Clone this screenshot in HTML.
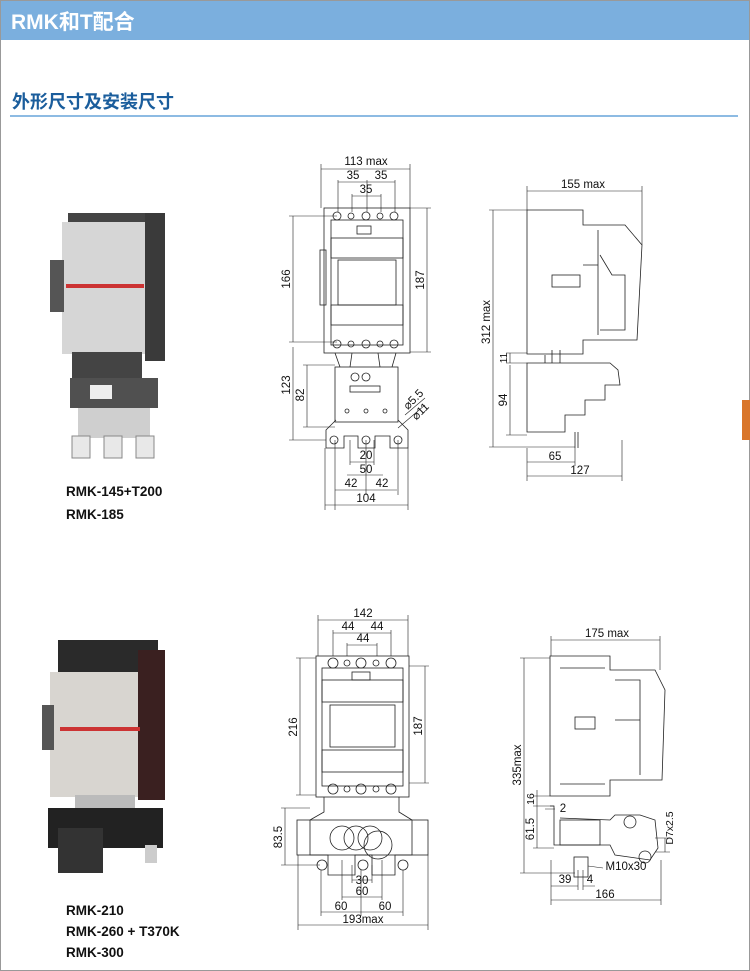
<!DOCTYPE html>
<html><head><meta charset="utf-8"><style>
html,body{margin:0;padding:0;background:#fff}
svg{display:block}
</style></head><body>
<svg width="750" height="971" viewBox="0 0 750 971" xmlns="http://www.w3.org/2000/svg" font-family="Liberation Sans, Noto Sans CJK SC, sans-serif">
<rect x="0" y="0" width="750" height="971" fill="#fff"/>
<rect x="0" y="0" width="750" height="40" fill="#7bafde"/>
<rect x="0.5" y="0.5" width="749" height="970" fill="none" stroke="#999" stroke-width="1"/>
<text x="11" y="29" font-size="21" font-weight="bold" fill="#fff" font-family="Liberation Sans, Noto Sans CJK SC, sans-serif">RMK和T配合</text>
<text x="12" y="108" font-size="18" font-weight="bold" fill="#1a5d9c" font-family="Liberation Sans, Noto Sans CJK SC, sans-serif">外形尺寸及安装尺寸</text>
<rect x="10" y="115" width="728" height="2" fill="#8dbbe3"/>
<rect x="742" y="400" width="8" height="40" fill="#d9762a"/>

<!-- Photo 1 -->
<g>
<rect x="68" y="213" width="80" height="25" fill="#444"/>
<rect x="62" y="222" width="88" height="132" fill="#d6d6d6"/>
<rect x="145" y="213" width="20" height="148" fill="#3a3a3a"/>
<rect x="50" y="260" width="14" height="52" fill="#555"/>
<rect x="66" y="284" width="78" height="4" fill="#c33"/>
<rect x="72" y="352" width="70" height="28" fill="#444"/>
<rect x="70" y="378" width="88" height="30" fill="#505050"/>
<rect x="90" y="385" width="22" height="14" fill="#eee"/>
<rect x="78" y="408" width="72" height="30" fill="#cfcfcf"/>
<rect x="72" y="436" width="18" height="22" fill="#e8e8e8" stroke="#888"/>
<rect x="104" y="436" width="18" height="22" fill="#e8e8e8" stroke="#888"/>
<rect x="136" y="436" width="18" height="22" fill="#e8e8e8" stroke="#888"/>
<text x="66" y="496" font-size="13.5" font-weight="bold" fill="#111">RMK-145+T200</text>
<text x="66" y="519" font-size="13.5" font-weight="bold" fill="#111">RMK-185</text>
</g>
<!-- Photo 2 -->
<g>
<rect x="58" y="640" width="100" height="32" fill="#2a2a2a"/>
<rect x="50" y="672" width="95" height="125" fill="#d8d5d0"/>
<rect x="138" y="650" width="27" height="150" fill="#3a2020"/>
<rect x="42" y="705" width="12" height="45" fill="#555"/>
<rect x="60" y="727" width="80" height="4" fill="#c33"/>
<rect x="75" y="795" width="60" height="15" fill="#bbb"/>
<rect x="48" y="808" width="115" height="40" fill="#222"/>
<rect x="58" y="828" width="45" height="45" fill="#333"/>
<rect x="145" y="845" width="12" height="18" fill="#ccc"/>
<text x="66" y="915" font-size="13.5" font-weight="bold" fill="#111">RMK-210</text>
<text x="66" y="936" font-size="13.5" font-weight="bold" fill="#111">RMK-260 + T370K</text>
<text x="66" y="957" font-size="13.5" font-weight="bold" fill="#111">RMK-300</text>
</g>

<g stroke="#222" stroke-width="0.8" fill="none">
<!-- Top front view -->
<rect x="324" y="208" width="86" height="145"/>
<rect x="331" y="220" width="72" height="125"/>
<rect x="331" y="238" width="72" height="20"/>
<rect x="338" y="260" width="58" height="45"/>
<rect x="331" y="305" width="72" height="20"/>
<circle cx="337" cy="216" r="4"/><circle cx="351" cy="216" r="3"/><circle cx="366" cy="216" r="4"/><circle cx="380" cy="216" r="3"/><circle cx="394" cy="216" r="4"/>
<circle cx="337" cy="344" r="4"/><circle cx="351" cy="344" r="3"/><circle cx="366" cy="344" r="4"/><circle cx="380" cy="344" r="3"/><circle cx="394" cy="344" r="4"/>
<rect x="357" y="226" width="14" height="8"/>
<rect x="320" y="250" width="6" height="55"/>
<path d="M335 353 L340 367 M352 353 L350 367 M378 353 L380 367 M396 353 L392 367"/>
<rect x="335" y="367" width="63" height="55"/>
<circle cx="355" cy="377" r="4"/><circle cx="366" cy="377" r="4"/>
<rect x="350" y="386" width="30" height="6"/>
<circle cx="347" cy="411" r="2"/><circle cx="366" cy="411" r="2"/><circle cx="385" cy="411" r="2"/>
<path d="M336 420 L326 430 L326 448 L344 448 L344 436 L358 436 L358 448 L375 448 L375 436 L390 436 L390 448 L408 448 L408 430 L398 420"/>
<circle cx="334" cy="440" r="4"/><circle cx="366" cy="440" r="4"/><circle cx="398" cy="440" r="4"/>
<!-- Top side view -->
<path d="M527 210 L583 210 L583 225 L625 225 L642 245 L637 340 L583 340 L583 354 L527 354 Z"/>
<path d="M598 230 L598 335 M583 265 L598 265 M600 255 L612 275 L625 275 L625 330 L600 330"/>
<rect x="552" y="275" width="28" height="12"/>
<path d="M527 363 L610 363 L618 370 L620 385 L605 385 L605 400 L585 400 L585 415 L565 415 L565 432 L527 432 Z"/>
<path d="M575 432 L575 448 M578 432 L578 448"/>
<path d="M545 355 L545 363 M552 350 L552 363 M560 350 L560 363"/>
<!-- Bottom front view -->
<rect x="316" y="656" width="93" height="141"/>
<rect x="322" y="668" width="81" height="118"/>
<rect x="322" y="680" width="81" height="22"/>
<rect x="330" y="705" width="65" height="42"/>
<rect x="322" y="750" width="81" height="22"/>
<circle cx="333" cy="663" r="5"/><circle cx="347" cy="663" r="3"/><circle cx="361" cy="663" r="5"/><circle cx="376" cy="663" r="3"/><circle cx="391" cy="663" r="5"/>
<circle cx="333" cy="789" r="5"/><circle cx="347" cy="789" r="3"/><circle cx="361" cy="789" r="5"/><circle cx="376" cy="789" r="3"/><circle cx="391" cy="789" r="5"/>
<rect x="352" y="672" width="18" height="8"/>
<path d="M324 797 L324 812 L310 820 L310 855 L328 855 L328 875 L355 875 L355 855 L372 855 L372 875 L395 875 L395 855 L412 855 L412 820 L399 812 L399 797"/>
<rect x="297" y="820" width="131" height="35"/>
<circle cx="342" cy="838" r="12"/><circle cx="356" cy="838" r="12"/><circle cx="370" cy="838" r="12"/><circle cx="378" cy="845" r="14"/>
<circle cx="322" cy="865" r="5"/><circle cx="363" cy="865" r="5"/><circle cx="403" cy="865" r="5"/>
<!-- Bottom side view -->
<path d="M550 656 L610 656 L610 670 L655 670 L665 690 L662 780 L610 780 L610 796 L550 796 Z"/>
<path d="M560 668 L605 668 M560 784 L605 784 M615 680 L640 680 L640 775 M615 720 L640 720"/>
<rect x="575" y="717" width="20" height="12"/>
<path d="M550 806 L554 806 L554 845 L610 845 L615 855 L650 860 L658 848 L655 820 L640 815 L615 815 L610 820 L560 818"/>
<rect x="560" y="820" width="40" height="25"/>
<circle cx="630" cy="822" r="6"/><circle cx="645" cy="857" r="6"/>
<rect x="574" y="857" width="14" height="20"/>
</g>

<!-- dimension lines -->
<g stroke="#222" stroke-width="0.6" fill="none">
<path d="M321 169 L410 169 M338 182 L395 182 M352 196 L381 196"/>
<path d="M321 164 L321 208 M410 164 L410 208 M338 180 L338 212 M367 180 L367 212 M395 180 L395 212 M352 194 L352 212 M381 194 L381 212"/>
<path d="M293 216 L293 342 M289 216 L337 216 M289 342 L337 342 M427 208 L427 352 M410 208 L431 208 M410 352 L431 352"/>
<path d="M293 347 L293 440 M307 365 L307 427 M289 440 L326 440 M303 365 L335 365 M303 427 L335 427"/>
<path d="M350 462 L374 462 M347 475 L383 475 M335 490 L397 490 M325 505 L408 505"/>
<path d="M335 440 L335 510 M366 440 L366 495 M398 440 L398 495 M325 448 L325 510 M408 448 L408 510 M350 440 L350 465 M374 440 L374 465"/>
<path d="M398 428 L425 405 M405 415 L425 398"/>
<path d="M527 191 L642 191 M527 186 L527 210 M642 186 L642 245"/>
<path d="M493 210 L493 447 M489 210 L527 210 M489 447 L575 447"/>
<path d="M510 353 L510 363 M506 353 L527 353 M506 363 L527 363 M510 365 L510 435 M506 435 L527 435"/>
<path d="M527 462 L575 462 M527 476 L622 476 M527 448 L527 481 M575 448 L575 466 M622 440 L622 481"/>
<path d="M318 620 L408 620 M333 633 L391 633 M347 645 L377 645 M318 615 L318 656 M408 615 L408 656 M333 630 L333 656 M391 630 L391 656 M347 643 L347 656 M377 643 L377 656"/>
<path d="M300 658 L300 795 M296 658 L316 658 M296 795 L316 795 M425 666 L425 783 M409 666 L429 666 M409 783 L429 783"/>
<path d="M285 808 L285 865 M281 808 L310 808 M281 865 L320 865"/>
<path d="M352 880 L372 880 M342 897 L382 897 M321 912 L403 912 M298 925 L428 925"/>
<path d="M321 870 L321 916 M361 870 L361 916 M403 870 L403 916 M298 855 L298 930 M428 855 L428 930 M342 860 L342 900 M382 860 L382 900 M352 865 L352 883 M372 865 L372 883"/>
<path d="M551 640 L660 640 M551 636 L551 656 M660 636 L660 670"/>
<path d="M524 658 L524 873 M520 658 L550 658 M520 873 L575 873"/>
<path d="M537 790 L537 806 M537 806 L537 848 M533 806 L554 806 M533 848 L554 848 M533 796 L550 796"/>
<path d="M545 809 L555 809 M665 838 L665 852 M655 838 L670 838 M655 852 L670 852"/>
<path d="M551 886 L578 886 M583 886 L595 886 M551 900 L661 900 M551 860 L551 905 M661 860 L661 905 M578 870 L578 890 M583 870 L583 890"/>
<path d="M588 866 L603 868"/>
</g>

<g font-size="11.5" fill="#111" text-anchor="middle">
<text x="366" y="165">113 max</text>
<text x="353" y="179">35</text><text x="381" y="179">35</text>
<text x="366" y="193">35</text>
<text transform="translate(290,279) rotate(-90)">166</text>
<text transform="translate(424,280) rotate(-90)">187</text>
<text transform="translate(290,385) rotate(-90)">123</text>
<text transform="translate(304,395) rotate(-90)">82</text>
<text transform="translate(416,402) rotate(-45)">⌀5.5</text>
<text transform="translate(423,414) rotate(-45)">⌀11</text>
<text x="366" y="459">20</text>
<text x="366" y="473">50</text>
<text x="351" y="487">42</text><text x="382" y="487">42</text>
<text x="366" y="502">104</text>
<text x="583" y="188">155 max</text>
<text transform="translate(490,322) rotate(-90)">312 max</text>
<text transform="translate(507,358) rotate(-90)" font-size="10">11</text>
<text transform="translate(507,400) rotate(-90)">94</text>
<text x="555" y="460">65</text>
<text x="580" y="474">127</text>
<text x="363" y="617">142</text>
<text x="348" y="630">44</text><text x="377" y="630">44</text>
<text x="363" y="642">44</text>
<text transform="translate(297,727) rotate(-90)">216</text>
<text transform="translate(422,726) rotate(-90)">187</text>
<text transform="translate(282,837) rotate(-90)">83.5</text>
<text x="362" y="884">30</text>
<text x="362" y="895">60</text>
<text x="341" y="910">60</text><text x="385" y="910">60</text>
<text x="363" y="923">193max</text>
<text x="607" y="637">175 max</text>
<text transform="translate(521,765) rotate(-90)">335max</text>
<text transform="translate(534,799) rotate(-90)" font-size="10.5">16</text>
<text transform="translate(534,829) rotate(-90)">61.5</text>
<text x="563" y="812">2</text>
<text transform="translate(673,828) rotate(-90)" font-size="10.5">D7x2.5</text>
<text x="626" y="870">M10x30</text>
<text x="565" y="883">39</text><text x="590" y="883">4</text>
<text x="605" y="898">166</text>
</g>
</svg>
</body></html>
